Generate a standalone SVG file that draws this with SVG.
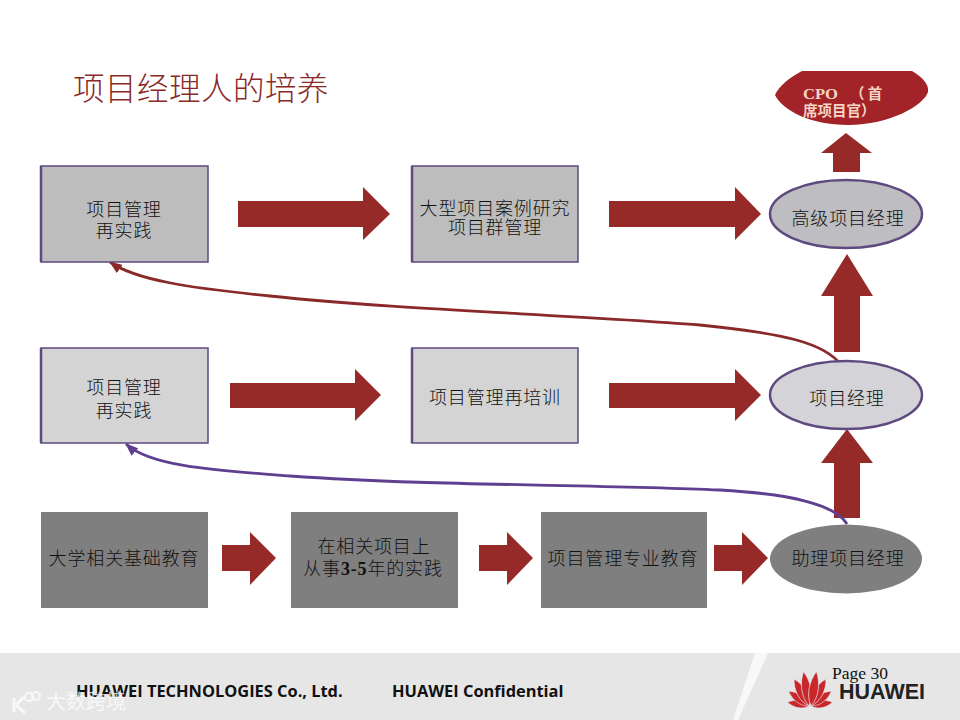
<svg xmlns="http://www.w3.org/2000/svg" width="960" height="720" viewBox="0 0 960 720">
<style>
text{font-family:"Liberation Serif","Noto Sans CJK SC",serif;fill:#111}
.cn{font-family:"Noto Sans CJK SC",sans-serif;font-size:18px;font-weight:300;text-anchor:middle;letter-spacing:.85px}
.box{stroke:#5f4a80;stroke-width:1.500}
.edge{stroke:#5f4a80;stroke-width:2.500}
.oval{stroke:#5f4a80;stroke-width:2.500}
.arrow{fill:#962a28}
.foot{font-family:"Open Sans","Liberation Sans",sans-serif;font-size:16.400px;font-weight:700;fill:#111}
.petal{fill:#c8282c;stroke:#e6e6e6;stroke-width:.8}
.cpo{font-size:14.500px;font-weight:700;fill:#f6d5c5}
</style>
<defs>
<marker id="mr" markerWidth="13" markerHeight="10" refX="12" refY="5" orient="auto" markerUnits="userSpaceOnUse"><path d="M0 0L13 5L0 10Z" fill="#8a2a28"/></marker>
<marker id="mp" markerWidth="13" markerHeight="10" refX="12" refY="5" orient="auto" markerUnits="userSpaceOnUse"><path d="M0 0L13 5L0 10Z" fill="#5f3f90"/></marker>
<path id="p" class="petal" d="M0 0C-9 -10 -8 -24 0 -35C8 -24 9 -10 0 0Z"/>
</defs>
<rect width="960" height="720" fill="#fff"/>
<g id="footer">
<rect y="653" width="960" height="67" fill="#e6e6e6"/>
<path d="M755 653H768L738 720H733Z" fill="#f8f8f8"/>
</g>
<text id="title" x="73" y="100" font-size="31.500" style="font-family:'Noto Sans CJK SC',sans-serif;font-weight:300;fill:#8a2a28;letter-spacing:.5px">项目经理人的培养</text>

<g id="connectors">
<path class="arrow" d="M238 201H363V187L390 214L363 240V227H238Z"/>
<path class="arrow" d="M609 201H735V187L761 214L735 240V227H609Z"/>
<path class="arrow" d="M230 383H355V369L381 395L355 421V408H230Z"/>
<path class="arrow" d="M609 383H735V369L761 395L735 421V408H609Z"/>
<path class="arrow" d="M222 545H250V532L276 558L250 585V571H222Z"/>
<path class="arrow" d="M479 545H507V532L533 558L507 585V571H479Z"/>
<path class="arrow" d="M714 545H742V532L768 558L742 585V571H714Z"/>
<path class="arrow" d="M833 172V153H821L846 133L872 153H860V172Z"/>
<path class="arrow" d="M834 352V296H821L847 254L873 296H860V352Z"/>
<path class="arrow" d="M834 518V463H821L847 429L873 463H860V518Z"/>
<path d="M842 366C825 342 780 333 700 325C560 314 400 310 270 296C190 288 135 280 110 262" fill="none" stroke="#8a2a28" stroke-width="2.800" marker-end="url(#mr)"/>
<path d="M847 524C835 504 790 494 720 490C590 484 430 486 290 476C210 470 150 466 126 444" fill="none" stroke="#5f3f90" stroke-width="2.800" marker-end="url(#mp)"/>
</g>

<g id="n1"><rect class="box" x="41" y="166" width="167" height="96" fill="#bdbdbd"/><path class="edge" d="M41 166V262"/>
<text class="cn" x="124" y="216">项目管理</text><text class="cn" x="124" y="237">再实践</text></g>
<g id="n2"><rect class="box" x="412" y="166" width="166" height="96" fill="#bdbdbd"/><path class="edge" d="M412 166V262"/>
<text class="cn" x="495" y="215">大型项目案例研究</text><text class="cn" x="495" y="234">项目群管理</text></g>
<g id="n3"><rect class="box" x="41" y="348" width="167" height="95" fill="#d4d4d4"/><path class="edge" d="M41 348V443"/>
<text class="cn" x="124" y="394">项目管理</text><text class="cn" x="124" y="417">再实践</text></g>
<g id="n4"><rect class="box" x="412" y="348" width="166" height="95" fill="#d4d4d4"/><path class="edge" d="M412 348V443"/>
<text class="cn" x="495" y="404">项目管理再培训</text></g>
<g id="n5"><rect x="41" y="512" width="167" height="96" fill="#7f7f7f"/>
<text class="cn" x="124" y="565">大学相关基础教育</text></g>
<g id="n6"><rect x="291" y="512" width="167" height="96" fill="#7f7f7f"/>
<text class="cn" x="374" y="553">在相关项目上</text><text class="cn" x="373" y="575">从事<tspan style="font-family:'Liberation Serif',serif;font-weight:700">3-5</tspan>年的实践</text></g>
<g id="n7"><rect x="541" y="512" width="166" height="96" fill="#7f7f7f"/>
<text class="cn" x="623" y="565">项目管理专业教育</text></g>
<g id="n8"><ellipse class="oval" cx="846" cy="214" rx="76" ry="34" fill="#bdbdc2"/>
<text class="cn" x="848" y="225">高级项目经理</text></g>
<g id="n9"><ellipse class="oval" cx="846" cy="395" rx="76" ry="34" fill="#d4d4d8"/>
<text class="cn" x="847" y="405">项目经理</text></g>
<g id="n10"><ellipse cx="846" cy="559" rx="76" ry="34.500" fill="#7f7f7f"/>
<text class="cn" x="848" y="565">助理项目经理</text></g>
<g id="n11"><path d="M802 71H912C923 78 929 84 928 92C924 105 890 125 848 125C810 125 782 110 775 95C778 87 790 77 802 71Z" fill="#a32428"/>
<text class="cpo" x="803" y="99" textLength="35" lengthAdjust="spacingAndGlyphs">CPO</text>
<text class="cpo" x="850" y="99" style="font-family:'Noto Sans CJK SC',sans-serif">（ 首</text>
<text class="cpo" x="803" y="116" style="font-family:'Noto Sans CJK SC',sans-serif">席项目官）</text></g>

<g id="footer-text">
<text class="foot" x="76" y="697">HUAWEI TECHNOLOGIES Co., Ltd.</text>
<text class="foot" x="392" y="697">HUAWEI Confidential</text>
<text x="832" y="679" font-size="17.500" style="fill:#111">Page 30</text>
<text x="839" y="699" font-size="21.500" font-weight="700" style="font-family:'Liberation Sans',sans-serif;fill:#222">HUAWEI</text>
</g>
<g id="logo">
<use href="#p" transform="translate(809,706) rotate(-80) scale(.55,.62)"/>
<use href="#p" transform="translate(811,706) rotate(80) scale(.55,.62)"/>
<use href="#p" transform="translate(809,706) rotate(-54) scale(.62,.72)"/>
<use href="#p" transform="translate(811,706) rotate(54) scale(.62,.72)"/>
<use href="#p" transform="translate(809,706) rotate(-29) scale(.72,.88)"/>
<use href="#p" transform="translate(811,706) rotate(29) scale(.72,.88)"/>
<use href="#p" transform="translate(809,706) rotate(-9) scale(.72,1)"/>
<use href="#p" transform="translate(811,706) rotate(9) scale(.72,1)"/>
</g>
<g id="watermark" opacity=".75">
<text x="46" y="709" font-size="20" style="font-family:'Noto Sans CJK SC',sans-serif;fill:#fff">大数跨境</text>
<path d="M14 698V712M24 697L16 705L25 713" fill="none" stroke="#fff" stroke-width="3"/>
<circle cx="29" cy="697" r="4" fill="none" stroke="#fff" stroke-width="2"/>
<circle cx="36" cy="696" r="4" fill="none" stroke="#fff" stroke-width="2"/>
</g>
</svg>
